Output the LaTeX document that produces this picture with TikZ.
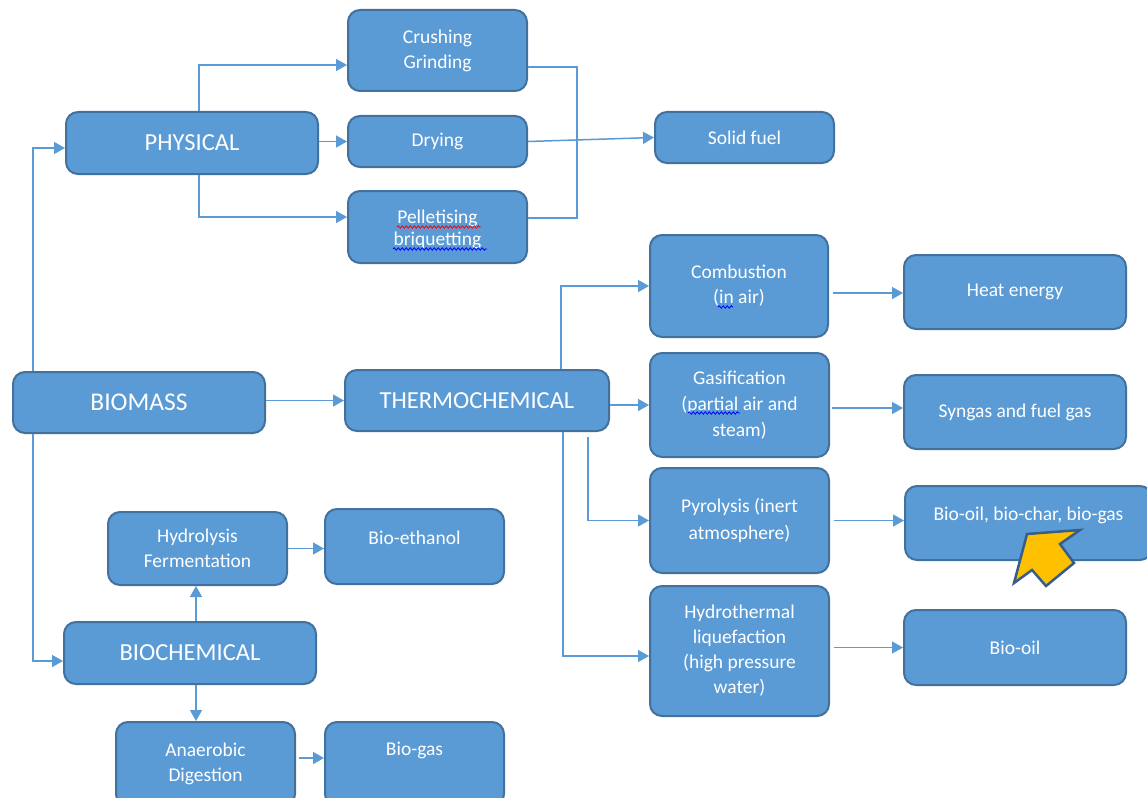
\documentclass[tikz,border=0pt]{standalone}
\usepackage{fontspec}
\setmainfont{Carlito}
\usetikzlibrary{arrows.meta,decorations.pathmorphing}
\definecolor{boxfill}{HTML}{5B9BD5}
\definecolor{boxedge}{HTML}{41719C}
\definecolor{lineblue}{HTML}{5B9BD5}
\definecolor{gold}{HTML}{FFC000}
\definecolor{goldedge}{HTML}{385D8A}
\begin{document}
\begin{tikzpicture}[x=1pt,y=-1pt,
  box/.style={draw=boxedge, fill=boxfill, line width=2pt, rounded corners=12pt,
    text=white, align=center, inner sep=0pt, font=\fontsize{19.5}{25}\selectfont},
  big/.style={box, font=\fontsize{24.5}{29}\selectfont},
  txt/.style={text=white, align=center, inner sep=0pt, font=\fontsize{19.5}{22}\selectfont},
  conn/.style={draw=lineblue, line width=1.5pt, -{Triangle[length=11pt,width=12pt]}},
  link/.style={draw=lineblue, line width=1.5pt},
  spell/.style={line width=0.8pt, decorate, decoration={snake, amplitude=1.2pt, segment length=4pt}},
  raised/.style={text height=11pt, text depth=#1}]
\useasboundingbox[fill=white] (0,0) rectangle (1147,797);
\clip (0,0) rectangle (1147,797);

% boxes
\node[box, minimum width=179pt, minimum height=81pt] (crush) at (437.5,50.5) {Crushing\\Grinding};
\node[big, minimum width=252pt, minimum height=62pt] (phys) at (192,143) {PHYSICAL};
\node[box, minimum width=179pt, minimum height=51pt] (dry) at (437.5,141.5) {Drying};
\node[box, minimum width=179pt, minimum height=72pt] (pell) at (437.5,227) {};
\node[txt] (pelltext) at (437.5,229) {Pelletising\\briquetting};
\node[box, minimum width=179pt, minimum height=51pt] (solid) at (744.5,137.5) {Solid fuel};

\node[box, minimum width=178pt, minimum height=102pt] (comb) at (739,286) {Combustion\\(in air)};
\node[box, minimum width=222pt, minimum height=74pt] (heat) at (1015,292) {Heat energy};
\node[big, minimum width=252pt, minimum height=61pt, font=\fontsize{25.5}{30}\selectfont] (biomass) at (139,402.5) {BIOMASS};
\node[big, minimum width=264pt, minimum height=61pt] (thermo) at (477,400.5) {THERMOCHEMICAL};
\node[box, minimum width=179pt, minimum height=104pt, font=\fontsize{19.5}{26}\selectfont] (gas) at (739.5,405) {Gasification\\(partial air and\\steam)};
\node[box, minimum width=222pt, minimum height=74pt] (syn) at (1015,412) {Syngas and fuel gas};
\node[box, minimum width=179pt, minimum height=105pt, font=\fontsize{19.5}{27}\selectfont] (pyro) at (739.5,520.5) {Pyrolysis (inert\\atmosphere)};
\node[box, minimum width=247pt, minimum height=74pt, raised=17pt] (bioc) at (1028.5,523) {Bio-oil, bio-char, bio-gas};
\node[box, minimum width=179pt, minimum height=130pt] (hydro) at (739.5,651) {Hydrothermal\\liquefaction\\(high pressure\\water)};
\node[box, minimum width=222pt, minimum height=75pt] (biooil) at (1015,647.5) {Bio-oil};

\node[box, minimum width=179pt, minimum height=73pt] (hydrol) at (197.5,548.5) {Hydrolysis\\Fermentation};
\node[box, minimum width=179pt, minimum height=75pt, raised=16pt] (bioeth) at (414.5,546.5) {Bio-ethanol};
\node[big, minimum width=252pt, minimum height=62pt] (biochem) at (190,653) {BIOCHEMICAL};
\node[box, minimum width=179pt, minimum height=84pt] (anaer) at (205.5,764) {Anaerobic\\Digestion};
\node[box, minimum width=179pt, minimum height=84pt, raised=29pt] (biogas) at (414.5,764) {Bio-gas};

% helper x positions
\coordinate (bx) at (33,0);
\coordinate (px) at (199,0);
\coordinate (sx) at (577,0);
\coordinate (tx) at (561,0);
\coordinate (ty) at (588,0);
\coordinate (tz) at (563,0);
\coordinate (cx) at (196,0);

% connectors: biomass
\draw[conn] (biomass.north -| bx) |- ([yshift=-5pt]phys.west);
\draw[conn] (biomass.south -| bx) |- ([yshift=-8pt]biochem.west);
\draw[conn] (thermo.west -| biomass.east) -- (thermo.west);

% physical
\draw[conn] (phys.north -| px) |- ([yshift=-14.5pt]crush.west);
\draw[conn] (dry.west -| phys.east) -- (dry.west);
\draw[conn] (phys.south -| px) |- ([yshift=10pt]pell.west);
\draw[link] ([yshift=-16.5pt]crush.east) -| ([yshift=9pt]pell.east -| sx) -- ([yshift=9pt]pell.east);
\draw[conn] (dry.east) -- (solid.west);

% thermochemical
\draw[conn] (thermo.north -| tx) |- (comb.west);
\draw[conn] (gas.west -| thermo.east) -- (gas.west);
\draw[conn] ([yshift=-5pt]thermo.south -| ty) |- (pyro.west);
\draw[conn] (thermo.south -| tz) |- ([yshift=-5pt]hydro.west);
\draw[conn] ([xshift=4pt,yshift=-1pt]heat.west -| comb.east) -- ([yshift=-1pt]heat.west);
\draw[conn] ([xshift=2pt,yshift=4pt]syn.west -| gas.east) -- ([yshift=4pt]syn.west);
\draw[conn] ([xshift=4pt]pyro.east) -- (pyro.east -| bioc.west);
\draw[conn] ([xshift=4pt]biooil.west -| hydro.east) -- (biooil.west);

% biochemical
\draw[conn] (hydrol.east) -- (hydrol.east -| bioeth.west);
\draw[conn] (biochem.north -| cx) -- (hydrol.south -| cx);
\draw[conn] (biochem.south -| cx) -- (anaer.north -| cx);
\draw[conn] ([xshift=3pt,yshift=6pt]anaer.east) -- ([yshift=6pt]anaer.east -| biogas.west);

% spell-check underlines
\draw[spell, red] (397,227) -- (481,227);
\draw[spell, blue] (393,249) -- (487,249);
\draw[spell, blue] (718,307) -- (733,307);
\draw[spell, blue] (688,413) -- (740,413);

% yellow pointer arrow
\draw[draw=goldedge, fill=gold, line width=2.5pt, line join=miter]
  (1027,534) -- (1080,530) -- (1060,544) -- (1074,563) -- (1046,586)
  -- (1032,570) -- (1014,583) -- cycle;
\end{tikzpicture}
\end{document}
